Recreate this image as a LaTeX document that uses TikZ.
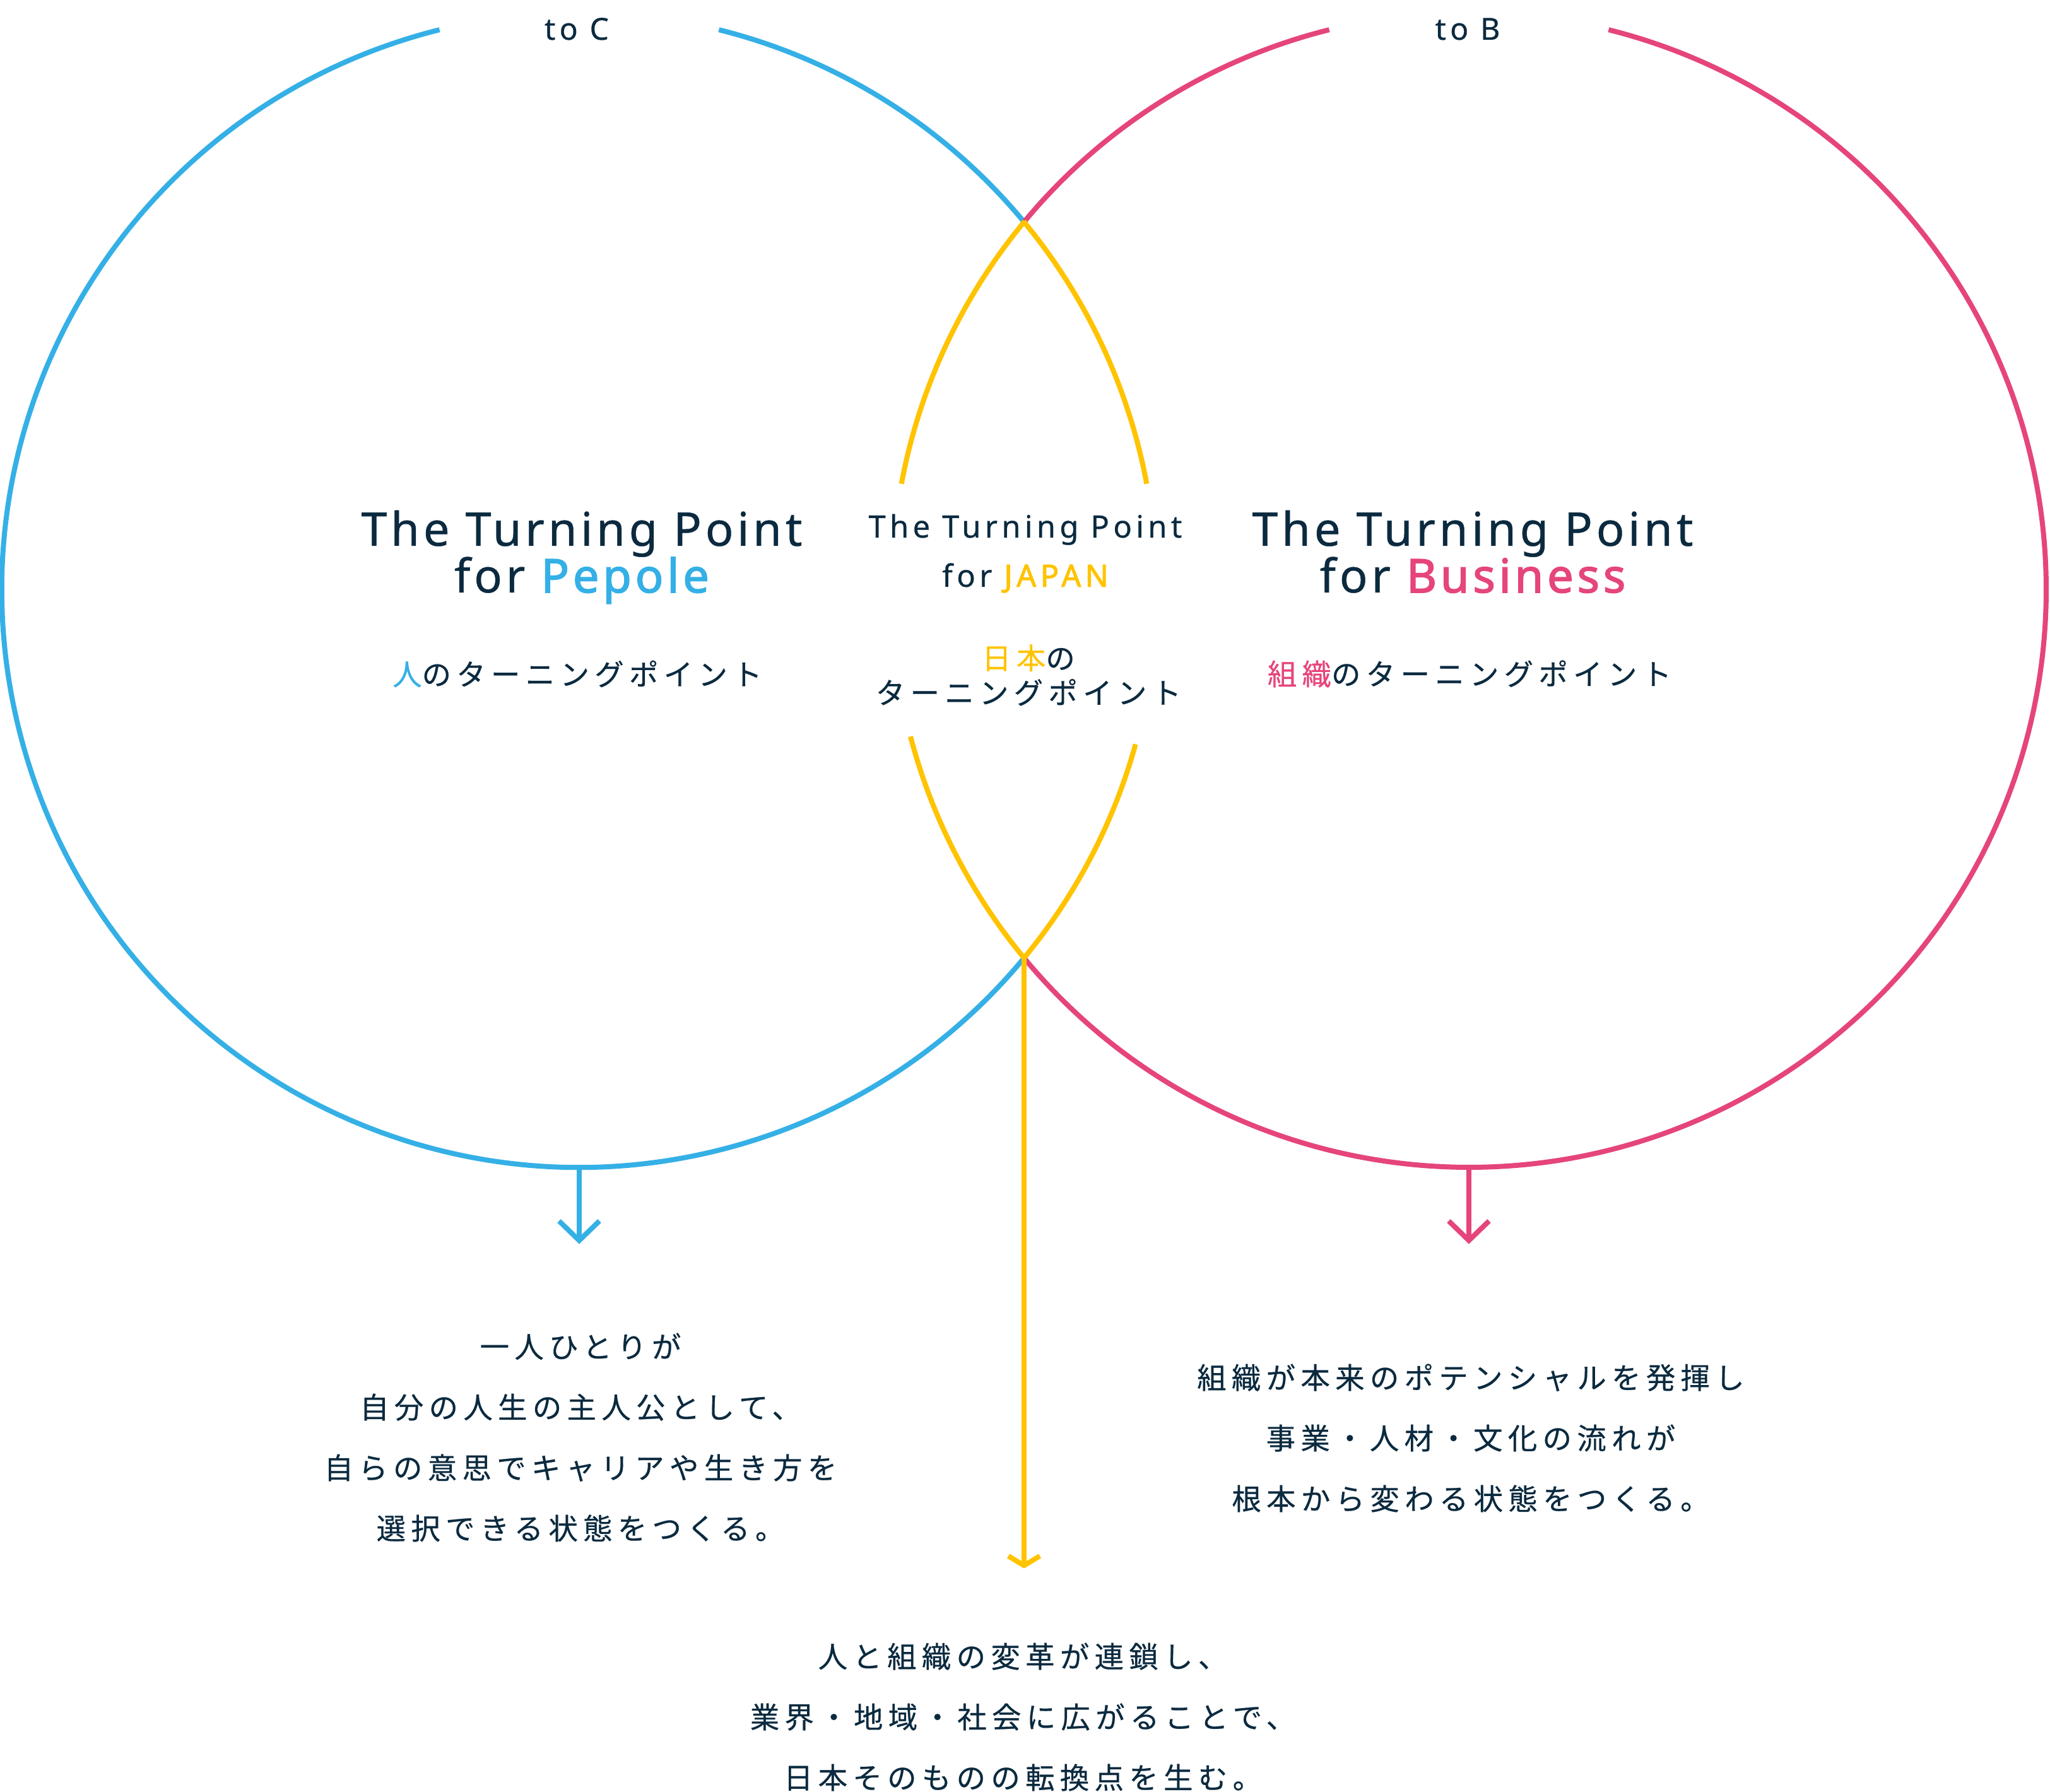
\documentclass[tikz,border=0pt]{standalone}
\usepackage{fontspec}
\setmainfont{Noto Sans}
\newfontfamily\latinwide[LetterSpace=8, FakeBold=0.6, BoldFont={Noto Sans}, BoldFeatures={FakeBold=2.2}]{Noto Sans}
\newfontfamily\latinmid[LetterSpace=13, FakeBold=0.5, BoldFont={Noto Sans}, BoldFeatures={FakeBold=2}]{Noto Sans}
\newfontfamily\jpfont[LetterSpace=18, FakeBold=0.5]{Noto Sans CJK JP}
\usetikzlibrary{calc}
\definecolor{peopleblue}{RGB}{53,176,230}
\definecolor{bizpink}{RGB}{229,69,124}
\definecolor{japanyellow}{RGB}{255,195,0}
\definecolor{inknavy}{RGB}{11,42,63}
\def\ringarc[#1](#2)(#3:#4){\draw[#1] ($(#2)+(#3:9.15)$) arc (#3:#4:9.15);}

\begin{document}
\begin{tikzpicture}[
		ring/.style={line width=0.08cm},
		ink/.style={text=inknavy, inner sep=0pt},
		tag/.style={ink, anchor=base, font=\latinmid\fontsize{13.7}{14}\selectfont},
		title/.style={ink, anchor=base, font=\latinwide\fontsize{21}{21}\selectfont},
		midtitle/.style={ink, anchor=base, font=\latinmid\fontsize{13.9}{14}\selectfont},
		jp/.style={ink, align=center, font=\jpfont\fontsize{13.2}{27.3}\selectfont},
	]
		%%%%% START %%%%%
		\useasboundingbox (0, 0) rectangle (32.49, 28.39);
		
		\coordinate (L) at (9.18, 19.04);
		\coordinate (R) at (23.28, 19.04);
		
		% to C
		\ringarc[ring, peopleblue](L)(39.68:76)
		\ringarc[ring, peopleblue](L)(104:320.32)
		
		% to B
		\ringarc[ring, bizpink](R)(104:140.32)
		\ringarc[ring, bizpink](R)(219.68:436)
		
		% overlap
		\ringarc[ring, japanyellow](L)(10.6:39.68)
		\ringarc[ring, japanyellow](L)(-39.68:-15.5)
		\ringarc[ring, japanyellow](R)(140.32:169.4)
		\ringarc[ring, japanyellow](R)(194.7:219.68)
		
		\coordinate (Lbot) at (9.18, 9.89);
		\coordinate (Ltip) at (9.18, 8.73);
		\draw[ring, peopleblue] (Lbot) -- (Ltip);
		\draw[ring, peopleblue] ($(Ltip)+(-0.32, 0.31)$) -- (Ltip) -- ($(Ltip)+(0.32, 0.31)$);
		
		\coordinate (Rbot) at (23.28, 9.89);
		\coordinate (Rtip) at (23.28, 8.73);
		\draw[ring, bizpink] (Rbot) -- (Rtip);
		\draw[ring, bizpink] ($(Rtip)+(-0.32, 0.31)$) -- (Rtip) -- ($(Rtip)+(0.32, 0.31)$);
		
		\coordinate (Mbot) at (16.23, 13.2);
		\coordinate (Mtip) at (16.23, 3.58);
		\draw[ring, japanyellow] (Mbot) -- (Mtip);
		\draw[ring, japanyellow] ($(Mtip)+(-0.25, 0.15)$) -- (Mtip) -- ($(Mtip)+(0.25, 0.15)$);
		
		% labels
		\node[tag] (toC) at (9.14, 27.76) {to C};
		\node[tag] (toB) at (23.26, 27.76) {to B};
		
		\node[title] (peopleA) at (9.22, 19.74) {The Turning Point};
		\node[title] (peopleB) at (9.22, 19.00) {for \textcolor{peopleblue}{\bfseries Pepole}};
		\node[midtitle] (japanA) at (16.25, 19.87) {The Turning Point};
		\node[midtitle] (japanB) at (16.25, 19.09) {for \textcolor{japanyellow}{\bfseries JAPAN}};
		\node[title] (bizA) at (23.34, 19.74) {The Turning Point};
		\node[title] (bizB) at (23.34, 19.00) {for \textcolor{bizpink}{\bfseries Business}};
		
		\node[jp] (peopleJ) at (9.15, 17.71) {\textcolor{peopleblue}{人}のターニングポイント};
		\node[jp, font=\jpfont\fontsize{13.2}{15.65}\selectfont] (japanJ) at (16.30, 17.69) {\textcolor{japanyellow}{日本}の\\ターニングポイント};
		\node[jp] (bizJ) at (23.29, 17.71) {\textcolor{bizpink}{組織}のターニングポイント};
		
		\node[jp] (peopleT) at (9.20, 5.61) {一人ひとりが\\自分の人生の主人公として、\\自らの意思でキャリアや生き方を\\選択できる状態をつくる。};
		\node[jp] (bizT) at (23.31, 5.60) {組織が本来のポテンシャルを発揮し\\事業・人材・文化の流れが\\根本から変わる状態をつくる。};
		\node[jp] (japanT) at (16.21, 1.18) {人と組織の変革が連鎖し、\\業界・地域・社会に広がることで、\\日本そのものの転換点を生む。};
		%%%%% END %%%%%
	\end{tikzpicture}
\end{document}
